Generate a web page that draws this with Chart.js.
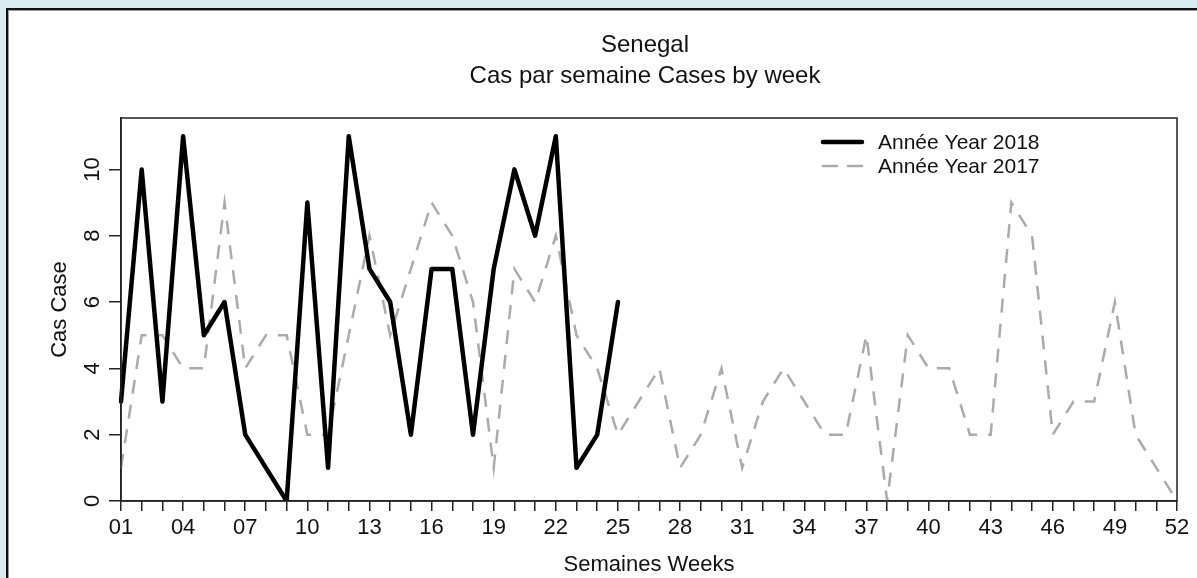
<!DOCTYPE html>
<html><head><meta charset="utf-8">
<script src="https://cdn.jsdelivr.net/npm/chart.js@4"></script>
<style>
html,body{margin:0;padding:0;background:#d9ecf2;width:1197px;height:578px;overflow:hidden;}
#panel{position:absolute;left:6px;top:8px;width:1191px;height:570px;background:#fff;border-left:2px solid #111;border-top:2px solid #111;box-shadow:inset 1px 1px 0 #9a9a9a;}
#c{position:absolute;left:0;top:0;}
</style></head><body>
<div id="panel"></div>
<canvas id="c" width="1197" height="578"></canvas>
<script>
const weeks = ["01","02","03","04","05","06","07","08","09","10","11","12","13","14","15","16","17","18","19","20","21","22","23","24","25","26","27","28","29","30","31","32","33","34","35","36","37","38","39","40","41","42","43","44","45","46","47","48","49","50","51","52"];
const cases2018 = [3,10,3,11,5,6,2,1,0,9,1,11,7,6,2,7,7,2,7,10,8,11,1,2,6];
const cases2017 = [1,5,5,4,4,9,4,5,5,2,2,5,8,5,7,9,8,6,1,7,6,8,5,4,2,3,4,1,2,4,1,3,4,3,2,2,5,0,5,4,4,2,2,9,8,2,3,3,6,2,1,0];
const yTicks = [0,2,4,6,8,10];
const xTickLabels = ["01","04","07","10","13","16","19","22","25","28","31","34","37","40","43","46","49","52"];
const titleLines = ["Senegal","Cas par semaine Cases by week"];
const seriesNames = ["Année Year 2018","Année Year 2017"];

const FONT = "'Liberation Sans', Arial, sans-serif";
const INK = '#111';

const boxPlugin = {
  id: 'box',
  afterDraw(chart) {
    const {ctx, chartArea: a} = chart;
    ctx.save();
    ctx.strokeStyle = '#222';
    ctx.lineWidth = 1.5;
    ctx.strokeRect(a.left, a.top, a.right - a.left, a.bottom - a.top);
    // titles
    ctx.fillStyle = INK;
    ctx.textAlign = 'center';
    ctx.textBaseline = 'middle';
    ctx.font = '24px ' + FONT;
    const cx = (a.left + a.right) / 2 - 4;
    ctx.fillText(titleLines[0], cx, 45);
    ctx.fillText(titleLines[1], cx, 76);
    // y tick labels (rotated)
    const ys = chart.scales.y;
    ctx.font = '22px ' + FONT;
    yTicks.forEach(v => {
      ctx.save();
      ctx.translate(93, ys.getPixelForValue(v));
      ctx.rotate(-Math.PI / 2);
      ctx.fillText(String(v), 0, 0);
      ctx.restore();
    });
    // legend
    ctx.font = '21px ' + FONT;
    ctx.textAlign = 'left';
    chart.data.datasets.forEach((ds, i) => {
      const y = 142 + i * 24;
      ctx.save();
      ctx.strokeStyle = ds.borderColor;
      ctx.lineWidth = ds.borderWidth;
      ctx.lineCap = 'round';
      ctx.setLineDash(ds.borderDash || []);
      ctx.beginPath();
      ctx.moveTo(823, y);
      ctx.lineTo(862, y);
      ctx.stroke();
      ctx.restore();
      ctx.fillStyle = INK;
      ctx.fillText(seriesNames[i], 878, y + 1);
    });
    ctx.restore();
  }
};

new Chart(document.getElementById('c'), {
  type: 'line',
  data: {
    labels: weeks,
    datasets: [
      {label: seriesNames[0], data: cases2018, borderColor: '#000', borderWidth: 4.5, pointRadius: 0, tension: 0, borderJoinStyle: 'round', borderCapStyle: 'round'},
      {label: seriesNames[1], data: cases2017, borderColor: '#aaaaaa', borderWidth: 2.5, borderDash: [14, 11], pointRadius: 0, tension: 0}
    ]
  },
  options: {
    responsive: false,
    animation: false,
    layout: {padding: {top: 118, right: 20, left: 0, bottom: 0}},
    plugins: {legend: {display: false}, title: {display: false}, tooltip: {enabled: false}},
    scales: {
      x: {
        type: 'category',
        offset: false,
        grid: {drawOnChartArea: false, drawTicks: true, tickLength: 10, color: '#222', lineWidth: 1.5},
        border: {display: true, color: '#222', width: 1.5},
        ticks: {autoSkip: false, maxRotation: 0, minRotation: 0, padding: 4, color: INK, font: {family: FONT, size: 22},
          callback: function(v, i) { const l = weeks[i]; return xTickLabels.includes(l) ? l : ''; }},
        title: {display: true, text: 'Semaines Weeks', color: INK, font: {family: FONT, size: 22}, padding: {top: 0, bottom: 0}},
        afterFit: s => { s.height = 77; }
      },
      y: {
        type: 'linear',
        min: 0, max: 11.55,
        afterBuildTicks: s => { s.ticks = yTicks.map(v => ({value: v})); },
        ticks: {display: false},
        grid: {drawOnChartArea: false, drawTicks: true, tickLength: 12, color: '#222', lineWidth: 1.5},
        border: {display: true, color: '#222', width: 1.5},
        title: {display: true, text: 'Cas Case', color: INK, font: {family: FONT, size: 22}, padding: {top: 47, bottom: 0}},
        afterFit: s => { s.width = 121; }
      }
    }
  },
  plugins: [boxPlugin]
});
</script>
</body></html>
